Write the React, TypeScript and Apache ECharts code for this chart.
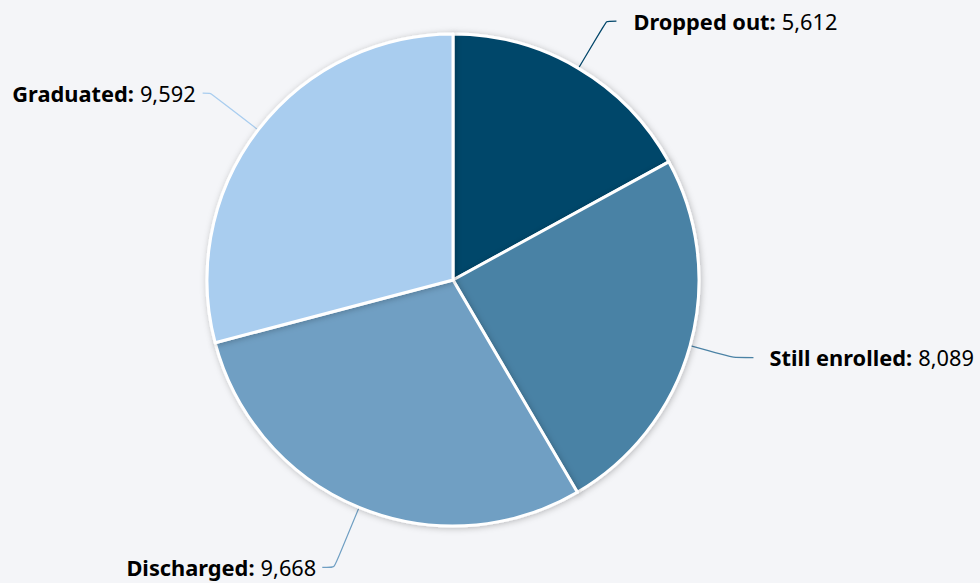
import React, { useEffect, useRef } from "react";
import * as echarts from "echarts";

const categories = ["Dropped out", "Still enrolled", "Discharged", "Graduated"];
const values = [5612, 8089, 9668, 9592];
const colors = ["#02466a", "#4a82a5", "#6f9fc3", "#a9cdef"];
const lineLengths = [55, 45, 65, 60];
const lineLengths2 = [10, 20, 12, 8];
const labelGaps = [17, 16, 6, 7];

export default function App() {
  const ref = useRef<HTMLDivElement>(null);
  useEffect(() => {
    if (!ref.current) return;
    const chart = echarts.init(ref.current, null, { renderer: "svg" });
    const fmt = (n: number) => n.toLocaleString("en-US");
    chart.setOption({
      animation: false,
      backgroundColor: "#f4f5f8",
      series: [
        {
          type: "pie",
          center: [453, 280],
          radius: [0, 246],
          startAngle: 90,
          clockwise: true,
          avoidLabelOverlap: false,
          itemStyle: {
            borderColor: "#ffffff",
            borderWidth: 3,
            shadowBlur: 6,
            shadowColor: "rgba(0,0,0,0.25)",
            shadowOffsetX: 1,
            shadowOffsetY: 1,
          },
          label: {
            show: true,
            position: "outside",
            fontSize: 21.8,
            formatter: (p: any) => `{b|${p.name}:} {v|${fmt(p.value)}}`,
            rich: {
              b: { fontFamily: "Noto Sans", fontWeight: "bold", fontSize: 21.8, color: "#000" },
              v: { fontFamily: "Noto Sans", fontSize: 21.8, color: "#000" },
            },
          },
          data: categories.map((c, i) => ({
            name: c,
            value: values[i],
            itemStyle: { color: colors[i] },
            label: { distanceToLabelLine: labelGaps[i] },
            labelLine: {
              show: true,
              length: lineLengths[i],
              length2: lineLengths2[i],
              smooth: 0.15,
              lineStyle: { width: 1.2, color: colors[i] },
            },
          })),
        },
      ],
    });
    return () => chart.dispose();
  }, []);
  return (
    <div
      ref={ref}
      style={{ position: "fixed", left: 0, top: 0, width: 980, height: 583 }}
    />
  );
}
